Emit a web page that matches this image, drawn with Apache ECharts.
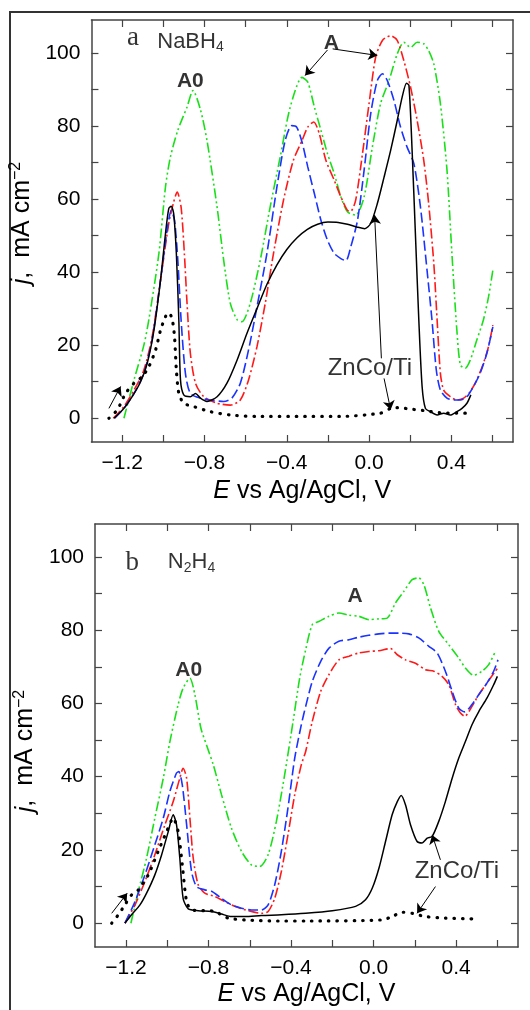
<!DOCTYPE html>
<html>
<head>
<meta charset="utf-8">
<script src="https://cdn.jsdelivr.net/npm/echarts@6.0.0/dist/echarts.min.js"></script>
<style>
  html, body { margin: 0; padding: 0; background: #fff; }
  #chart { width: 530px; height: 1010px; }
</style>
</head>
<body>
<div id="chart"></div>
<script>
// axis ticks
const xTicks = [-1.2, -1.0, -0.8, -0.6, -0.4, -0.2, 0.0, 0.2, 0.4, 0.6];
const xLabels = [-1.2, -0.8, -0.4, 0.0, 0.4];
const yTicks = [0, 10, 20, 30, 40, 50, 60, 70, 80, 90, 100];
const yLabels = [0, 20, 40, 60, 80, 100];

// panel a (NaBH4): [E, j]
const aGreen = [[-1.192,0],[-1.143,10.5],[-1.095,20],[-1.071,26.9],[-1.022,45.1],[-0.99,63.3],[-0.966,71.5],[-0.93,78.8],[-0.885,85.2],[-0.856,89.7],[-0.82,84.5],[-0.788,76],[-0.739,57.8],[-0.707,43.3],[-0.675,31.5],[-0.642,27],[-0.618,26.4],[-0.578,31.4],[-0.529,43.3],[-0.481,57.8],[-0.432,71.5],[-0.384,85],[-0.326,93.3],[-0.298,92],[-0.266,85.2],[-0.234,78.8],[-0.202,72.4],[-0.169,66.9],[-0.137,60.6],[-0.105,56.5],[-0.065,55.6],[-0.024,60.6],[0.016,74.2],[0.056,86.1],[0.097,92.4],[0.137,99.7],[0.169,102.9],[0.202,101.5],[0.234,102.9],[0.266,102.5],[0.29,100.6],[0.315,97],[0.347,86.1],[0.379,67.9],[0.403,45],[0.427,24.1],[0.444,14.6],[0.468,13.7],[0.492,15.9],[0.524,21.4],[0.556,26.9],[0.581,33.2],[0.602,40.5]];
const aRed = [[-1.244,0],[-1.192,3.2],[-1.143,7.7],[-1.095,13.2],[-1.055,22.3],[-1.014,37.8],[-0.974,53.3],[-0.95,59.2],[-0.933,61.9],[-0.914,57.8],[-0.898,45],[-0.885,31.4],[-0.869,17.8],[-0.844,9.6],[-0.804,5.9],[-0.739,4.1],[-0.675,3.6],[-0.626,5],[-0.586,10.5],[-0.545,19.6],[-0.505,31.4],[-0.465,45],[-0.416,59.7],[-0.368,70.6],[-0.326,76],[-0.298,79.7],[-0.269,81.1],[-0.242,77.9],[-0.21,70.6],[-0.169,65.1],[-0.137,60.6],[-0.105,56.9],[-0.089,56.7],[-0.065,59.7],[-0.032,72.4],[0,86.1],[0.032,98.8],[0.065,103.4],[0.105,104.7],[0.137,103.4],[0.169,97.9],[0.202,90.6],[0.234,81.5],[0.266,70.6],[0.29,58.7],[0.315,42.3],[0.331,26.9],[0.347,12.3],[0.363,7.7],[0.395,5.9],[0.427,5],[0.46,5.5],[0.492,7.3],[0.524,10.5],[0.556,15],[0.581,19.6],[0.602,25.5]];
const aBlue = [[-1.237,0],[-1.192,2.7],[-1.143,6.8],[-1.095,12.3],[-1.055,21.4],[-1.014,37.8],[-0.982,51.5],[-0.962,56.9],[-0.946,54.2],[-0.93,43.3],[-0.914,26.9],[-0.893,12.3],[-0.869,6.8],[-0.82,5.5],[-0.772,5],[-0.707,4.6],[-0.667,5.5],[-0.626,9.6],[-0.586,18.7],[-0.545,30.5],[-0.497,45],[-0.448,63.3],[-0.408,76],[-0.376,80.1],[-0.352,79.7],[-0.326,75.6],[-0.298,68.8],[-0.266,61.5],[-0.234,54.2],[-0.202,48.7],[-0.169,45.1],[-0.137,43.7],[-0.113,43.1],[-0.089,46.9],[-0.056,54.2],[-0.024,67.9],[0.008,83.3],[0.04,92.4],[0.065,94.3],[0.089,92.4],[0.121,87],[0.153,79.7],[0.185,74.2],[0.218,69.7],[0.25,57.8],[0.282,40.5],[0.306,26.9],[0.327,13.2],[0.347,7.7],[0.379,5.5],[0.411,5],[0.444,5],[0.476,5.9],[0.508,8.7],[0.54,12.3],[0.573,17.8],[0.602,25]];
const aBlack = [[-1.24,0],[-1.192,2.7],[-1.152,5.9],[-1.111,10],[-1.079,15],[-1.046,24.1],[-1.014,37.8],[-0.99,50.5],[-0.974,57.4],[-0.962,58],[-0.95,56],[-0.937,45],[-0.925,26.9],[-0.917,10.5],[-0.901,6.4],[-0.869,5.9],[-0.844,6.8],[-0.82,5.5],[-0.788,4.6],[-0.739,5.9],[-0.691,9.6],[-0.642,15.9],[-0.594,23.2],[-0.545,30],[-0.497,36.6],[-0.448,42],[-0.4,46.2],[-0.35,49.4],[-0.3,51.7],[-0.25,53.1],[-0.2,53.7],[-0.15,53.6],[-0.105,53.1],[-0.056,52.3],[-0.021,51.9],[0.008,53.3],[0.04,58.7],[0.073,66],[0.105,73.3],[0.137,81.5],[0.161,87.9],[0.182,91.7],[0.194,91.1],[0.21,72.4],[0.226,49.6],[0.242,26.9],[0.258,8.7],[0.274,2.7],[0.298,1.8],[0.331,0.9],[0.363,1.4],[0.395,0.9],[0.427,1.8],[0.452,2.7],[0.476,4.1],[0.495,6.4]];
const aDotted = [[-1.265,0],[-1.224,2.3],[-1.184,6.8],[-1.143,9.6],[-1.103,11.4],[-1.071,14.1],[-1.038,18.7],[-1.014,24.1],[-0.99,27.8],[-0.974,28.9],[-0.958,27.3],[-0.946,22.3],[-0.937,13.2],[-0.925,6.8],[-0.901,4.1],[-0.853,3.2],[-0.772,1.8],[-0.675,0.9],[-0.545,0.5],[-0.331,0.5],[-0.137,0.5],[0.056,1.4],[0.105,2.7],[0.137,2.9],[0.202,2.5],[0.266,2.1],[0.347,1.5],[0.476,1.4]];

// panel b (N2H4): [E, j]
const bGreen = [[-1.176,0],[-1.14,8.7],[-1.1,17.8],[-1.06,28.7],[-1.019,39.6],[-0.987,49.6],[-0.947,59.7],[-0.923,64.2],[-0.89,66.9],[-0.866,62.4],[-0.837,53.3],[-0.81,48.7],[-0.777,43.3],[-0.737,35.1],[-0.689,26],[-0.64,19.6],[-0.592,15.9],[-0.552,15.5],[-0.511,18.7],[-0.471,27.8],[-0.431,40.5],[-0.39,55.1],[-0.358,66.9],[-0.329,74.7],[-0.297,81.5],[-0.265,82.4],[-0.216,83.8],[-0.168,84.7],[-0.119,84.1],[-0.071,83.8],[-0.023,82.9],[0.026,83.1],[0.066,83.3],[0.106,87.4],[0.147,90.6],[0.187,93.8],[0.219,94.3],[0.244,92.4],[0.276,86.1],[0.316,79.7],[0.365,76],[0.413,72.4],[0.445,69.7],[0.485,67.7],[0.526,68.8],[0.558,70.6],[0.587,73.8]];
const bRed = [[-1.205,0],[-1.156,5],[-1.108,11.4],[-1.06,18.7],[-1.011,26.9],[-0.971,33.2],[-0.939,39.6],[-0.923,42.3],[-0.906,39.6],[-0.89,28.7],[-0.874,17.8],[-0.85,10.5],[-0.818,8.2],[-0.769,7.3],[-0.721,5.9],[-0.673,4.6],[-0.608,3.4],[-0.544,2.7],[-0.511,3.2],[-0.479,6.8],[-0.447,14.1],[-0.415,24.1],[-0.382,35.1],[-0.35,43.3],[-0.329,46.9],[-0.297,55.1],[-0.256,63.3],[-0.216,67.9],[-0.168,71.9],[-0.119,72.9],[-0.071,73.8],[-0.023,74.2],[0.026,74.4],[0.082,75],[0.115,73.3],[0.155,71.9],[0.203,71],[0.252,69.2],[0.292,68.8],[0.332,67.4],[0.365,65.1],[0.397,59.7],[0.421,57.4],[0.442,56.5],[0.477,59.2],[0.51,62.4],[0.55,65.6],[0.59,68.8],[0.603,69.7]];
const bBlue = [[-1.205,0],[-1.156,5.9],[-1.108,13.2],[-1.06,21.4],[-1.019,28.7],[-0.987,36],[-0.955,41],[-0.944,41.4],[-0.927,37.8],[-0.906,26.9],[-0.882,14.1],[-0.858,10],[-0.818,9.1],[-0.785,8.7],[-0.737,6.8],[-0.689,5],[-0.64,4.1],[-0.592,3.6],[-0.544,3.6],[-0.511,5],[-0.479,10.5],[-0.447,19.6],[-0.415,31.4],[-0.382,45.1],[-0.35,54.2],[-0.329,59.2],[-0.297,66],[-0.256,71.5],[-0.216,75.1],[-0.168,77],[-0.119,77.4],[-0.071,78.1],[-0.023,78.6],[0.026,79],[0.074,79.2],[0.123,79.2],[0.171,79],[0.219,77.9],[0.268,75.6],[0.308,73.8],[0.348,68.8],[0.381,63.3],[0.413,58.7],[0.442,57.7],[0.477,59.7],[0.51,62.4],[0.55,65.6],[0.582,68.8],[0.603,71.9]];
const bBlack = [[-1.205,0],[-1.173,2.3],[-1.132,5],[-1.1,8.2],[-1.06,13.2],[-1.027,18.7],[-0.995,25],[-0.971,29.6],[-0.955,26.9],[-0.939,17.8],[-0.923,6.8],[-0.898,3.9],[-0.85,3.4],[-0.785,3.2],[-0.737,2.5],[-0.689,1.8],[-0.624,1.8],[-0.544,2.1],[-0.447,2.3],[-0.329,2.7],[-0.2,3.4],[-0.087,4.6],[-0.039,6.4],[-0.006,9.6],[0.026,15],[0.058,22.3],[0.09,29.6],[0.115,33.2],[0.134,34.9],[0.155,32.3],[0.179,26.9],[0.211,22.3],[0.235,21.9],[0.26,23.2],[0.284,23.7],[0.316,27.8],[0.348,33.2],[0.381,39.6],[0.413,45.1],[0.445,49.6],[0.477,54.2],[0.51,57.8],[0.55,61.5],[0.582,65.1],[0.6,67.4]];
const bDotted = [[-1.269,0],[-1.237,2.3],[-1.205,5],[-1.173,7.7],[-1.14,9.1],[-1.092,13.2],[-1.044,19.6],[-1.003,25],[-0.971,28.7],[-0.947,25],[-0.927,15.9],[-0.906,5.9],[-0.882,3.6],[-0.818,3.4],[-0.769,3.2],[-0.705,1.4],[-0.624,0.9],[-0.463,0.6],[-0.329,0.6],[0.042,0.9],[0.09,1.8],[0.139,3],[0.187,2.7],[0.252,1.8],[0.348,1.4],[0.477,1.2]];

// annotation texts [E, j, text] and arrows [E1, j1, E2, j2]
const aTexts = [[-1.148, 104.2, '{s|a}'], [-1.03, 103.1, '{n|NaBH}{sub|4}'], [-0.869, 92.2, '{b|A0}'], [-0.183, 102.7, '{b|A}'], [0.004, 13.6, '{z|ZnCo/Ti}']];
const aArrows = [[-0.202, 100.8, -0.311, 93.8], [-0.177, 101.1, 0.04, 99.3], [0.06, 16.4, 0.027, 55.6], [0.073, 10.9, 0.105, 2.3], [-1.265, 2.7, -1.208, 8.7]];
const bTexts = [[-1.169, 98.5, '{s|b}'], [-0.997, 98.7, '{n|N}{sub|2}{n|H}{sub|4}'], [-0.896, 69, '{b|A0}'], [-0.089, 89.3, '{b|A}'], [0.404, 14.2, '{z|ZnCo/Ti}']];
const bArrows = [[0.324, 17.3, 0.284, 24.1], [0.3, 10, 0.211, 2.7], [-1.269, 2.7, -1.194, 8.2]];

const sans = 'Liberation Sans, Arial, sans-serif';
const minus = v => String(v).replace('-', '\u2212');

const myChart = echarts.init(document.getElementById('chart'));

function axesFor(grid, yNameGap, xNameGap, yNamePad) {
  const frame = { show: true, onZero: false, lineStyle: { color: '#444', width: 1.5 } };
  const tick = { show: true, inside: true, length: 7, lineStyle: { color: '#444', width: 1.2 } };
  const x = {
    type: 'value', gridIndex: grid, min: -1.35, max: 0.7,
    axisLine: frame,
    axisTick: Object.assign({ customValues: xTicks }, tick),
    splitLine: { show: false }
  };
  const y = {
    type: 'value', gridIndex: grid, min: -6.5, max: 109,
    axisLine: frame,
    axisTick: Object.assign({ customValues: yTicks }, tick),
    splitLine: { show: false }
  };
  return {
    x: [
      Object.assign({}, x, {
        position: 'bottom',
        axisLabel: { customValues: xLabels, formatter: v => minus(v.toFixed(1)), color: '#000', fontSize: 21, fontFamily: sans, margin: 11 },
        name: '{i|E} vs Ag/AgCl, V', nameLocation: 'middle', nameGap: xNameGap,
        nameTextStyle: { color: '#000', fontSize: 25, fontFamily: sans, rich: { i: { fontStyle: 'italic', fontSize: 25, fontFamily: sans } } }
      }),
      Object.assign({}, x, { position: 'top', axisLabel: { show: false } })
    ],
    y: [
      Object.assign({}, y, {
        position: 'left',
        axisLabel: { customValues: yLabels, color: '#000', fontSize: 21, fontFamily: sans, margin: 11 },
        name: '{i|j},  mA cm{sup|\u22122}', nameLocation: 'middle', nameGap: yNameGap, nameRotate: 90,
        nameTextStyle: {
          color: '#000', fontSize: 25, fontFamily: sans, padding: yNamePad,
          rich: { i: { fontStyle: 'italic', fontSize: 25, fontFamily: sans }, sup: { fontSize: 16, fontFamily: sans, padding: [0, 0, 12, 0] } }
        }
      }),
      Object.assign({}, y, { position: 'right', axisLabel: { show: false } })
    ]
  };
}

const axA = axesFor(0, 45, 37, [0, 0, 0, 16]);
const axB = axesFor(1, 52, 35, [0, 31, 0, 0]);

function curve(data, xi, yi, color, type, width, cap) {
  return {
    type: 'line', xAxisIndex: xi, yAxisIndex: yi, data: data,
    showSymbol: false, smooth: 0.25,
    lineStyle: { color: color, width: width, type: type, cap: cap || 'butt' },
    z: 3
  };
}

const rich = {
  s: { fontFamily: 'Liberation Serif, serif', fontSize: 27, color: '#000' },
  n: { fontFamily: sans, fontSize: 22, color: '#000' },
  sub: { fontFamily: sans, fontSize: 14, padding: [12, 0, 0, 0], color: '#000' },
  b: { fontFamily: sans, fontSize: 21, fontWeight: 'bold', color: '#000' },
  z: { fontFamily: sans, fontSize: 24, color: '#000' }
};

function notes(texts, arrows, xi, yi) {
  return {
    type: 'scatter', xAxisIndex: xi, yAxisIndex: yi, symbolSize: 0, silent: true, z: 5,
    data: texts.map(t => ({
      value: [t[0], t[1]],
      label: {
        show: true, position: 'inside', formatter: t[2],
        align: t[2].startsWith('{n|') ? 'left' : 'center', verticalAlign: 'middle',
        color: '#000', rich: rich
      }
    })),
    markLine: {
      silent: true, animation: false, symbol: ['none', 'arrow'], symbolSize: 9,
      label: { show: false },
      emphasis: { disabled: true },
      lineStyle: { color: '#000', width: 1, type: 'solid' },
      data: arrows.map(a => [{ coord: [a[0], a[1]] }, { coord: [a[2], a[3]] }])
    }
  };
}

const green = '#19e019', red = '#ff1a1a', blue = '#1a33ff';
const dashDotDot = [10, 3, 2, 3, 2, 3];
const dashDot = [10, 3, 2, 3];
const dashed = [10, 4];
const dots = [0.5, 8];

myChart.setOption({
  animation: false,
  grid: [
    { left: 89, top: 20, width: 424, height: 422 },
    { left: 95, top: 524, width: 423, height: 423 }
  ],
  xAxis: axA.x.concat(axB.x.map(a => Object.assign(a, { gridIndex: 1 }))),
  yAxis: axA.y.concat(axB.y.map(a => Object.assign(a, { gridIndex: 1 }))),
  graphic: [{
    type: 'rect', silent: true, z: -1,
    shape: { x: 10, y: 12, width: 600, height: 1100 },
    style: { fill: 'none', stroke: '#333', lineWidth: 2 }
  }],
  series: [
    curve(aGreen, 0, 0, green, dashDotDot, 1.6),
    curve(aRed, 0, 0, red, dashDot, 1.6),
    curve(aBlue, 0, 0, blue, dashed, 1.6),
    curve(aBlack, 0, 0, '#000', 'solid', 1.5),
    curve(aDotted, 0, 0, '#000', dots, 3.2, 'round'),
    notes(aTexts, aArrows, 0, 0),
    curve(bGreen, 2, 2, green, dashDotDot, 1.6),
    curve(bRed, 2, 2, red, dashDot, 1.6),
    curve(bBlue, 2, 2, blue, dashed, 1.6),
    curve(bBlack, 2, 2, '#000', 'solid', 1.5),
    curve(bDotted, 2, 2, '#000', dots, 3.2, 'round'),
    notes(bTexts, bArrows, 2, 2)
  ]
});
</script>
</body>
</html>
